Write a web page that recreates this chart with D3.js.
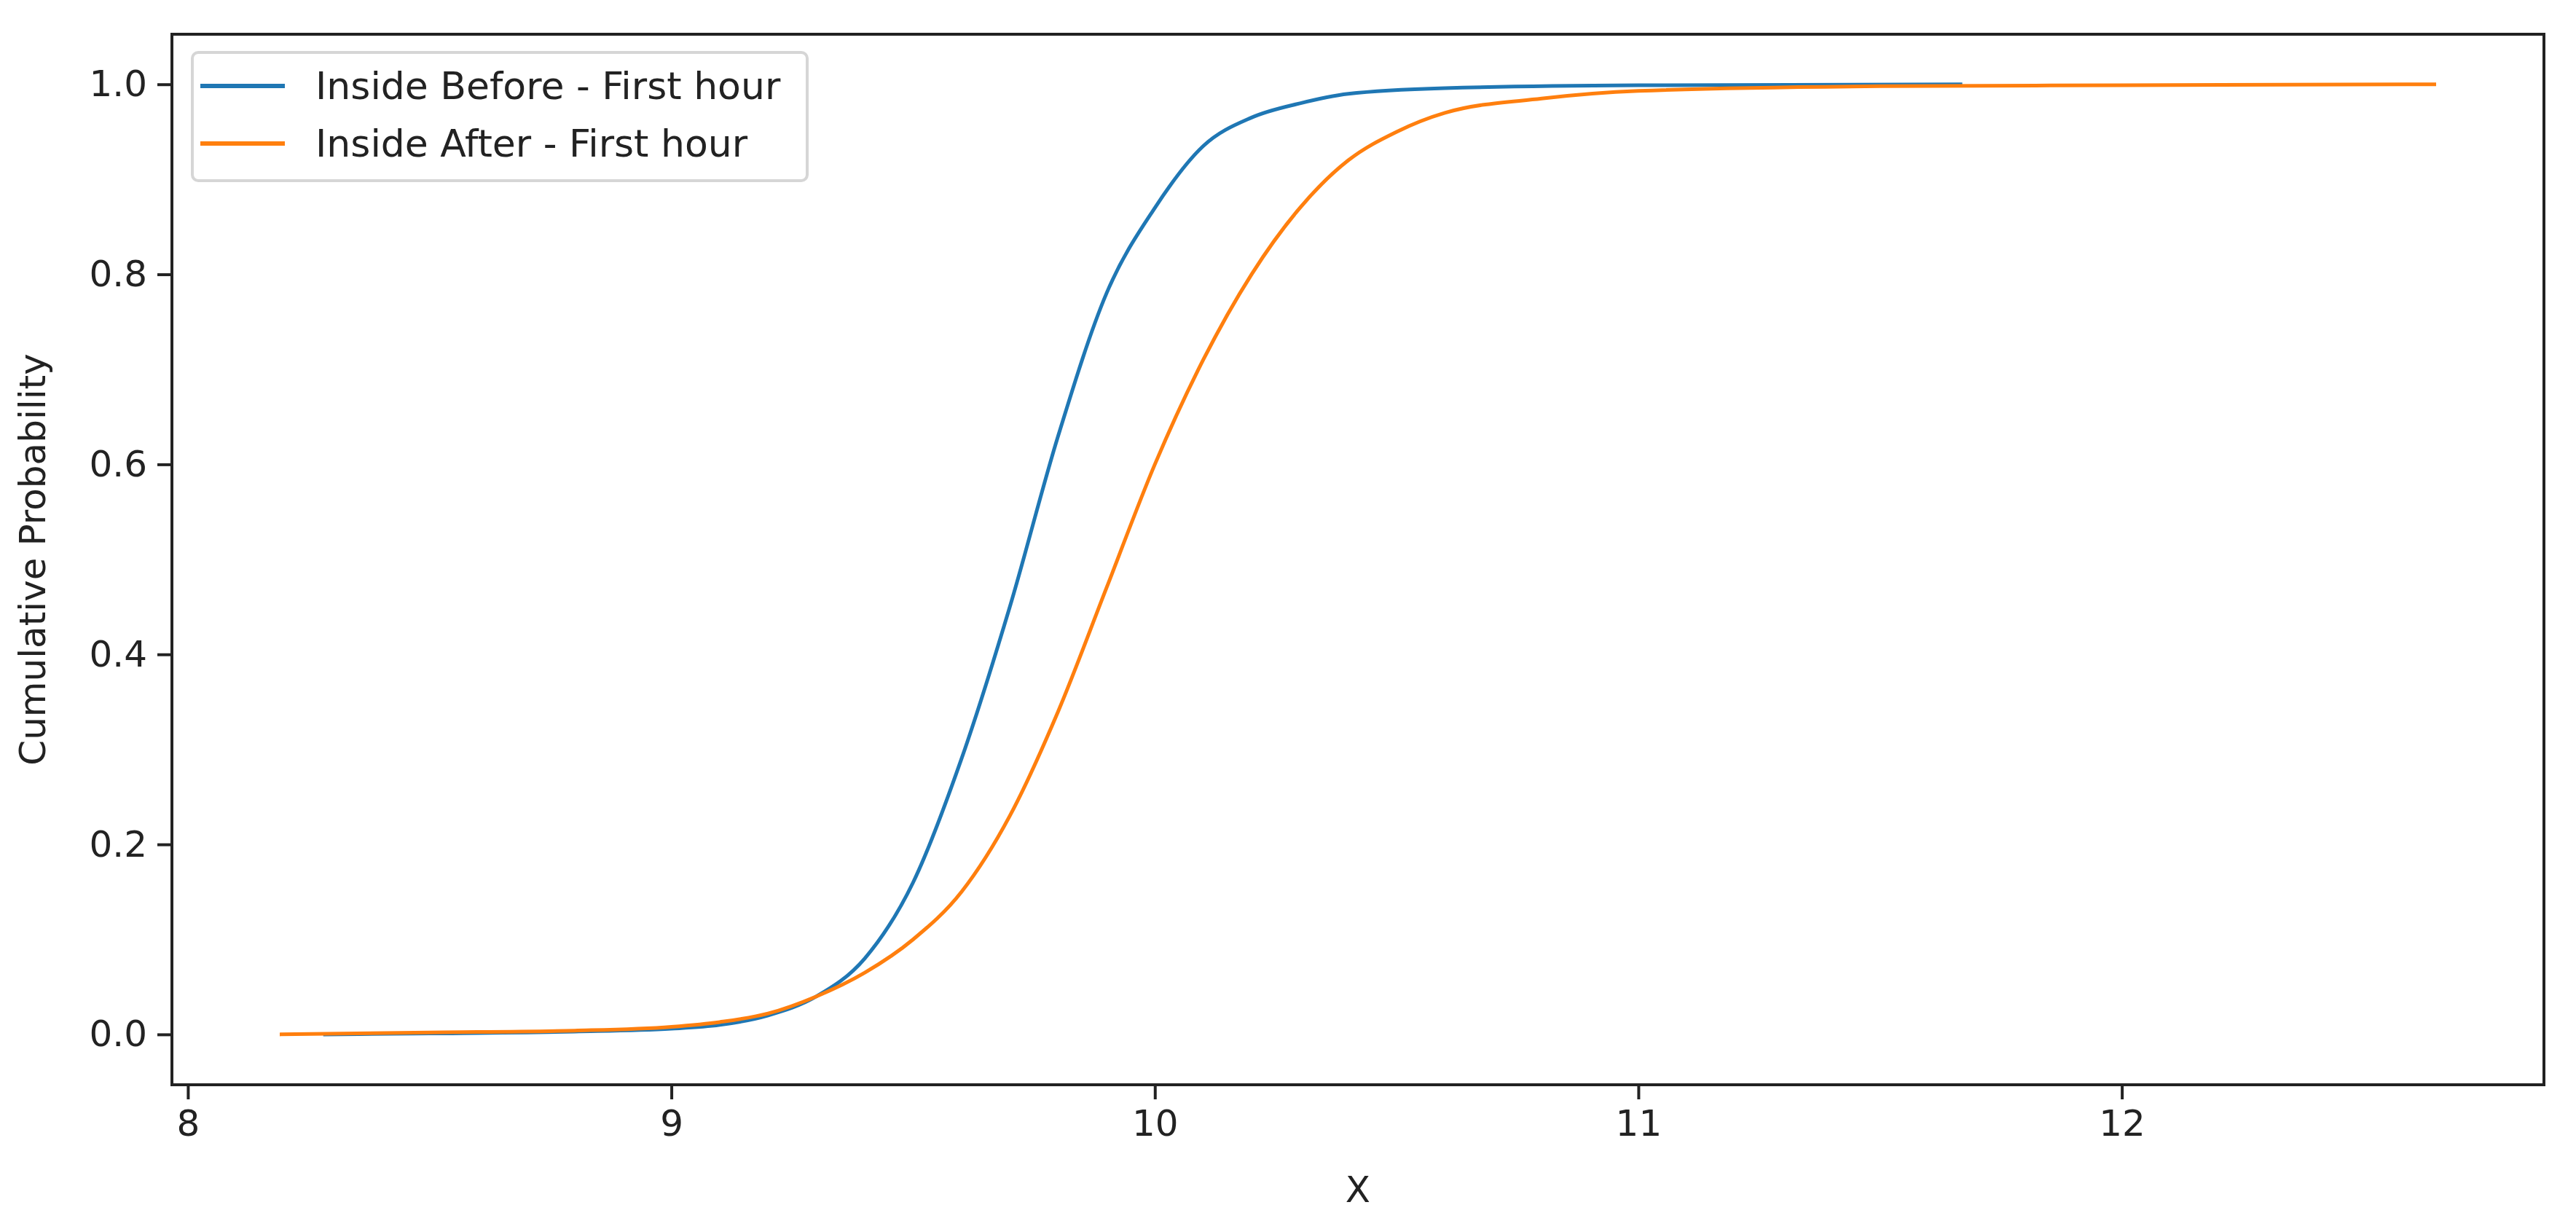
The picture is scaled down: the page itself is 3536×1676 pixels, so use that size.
<!DOCTYPE html>
<html><head><meta charset="utf-8">
<script src="https://cdn.jsdelivr.net/npm/d3@7"></script>
<style>body{margin:0;background:#fff}</style></head>
<body><svg id="c" width="3536" height="1676"></svg>
<script>
const seriesNames = ["Inside Before - First hour", "Inside After - First hour"];
const colors = ["#1f77b4", "#ff7f0e"];
const beforeX = [8.28,8.5,8.8,9.0,9.1,9.2,9.3,9.4,9.5,9.6,9.7,9.8,9.9,10.0,10.1,10.2,10.3,10.4,10.6,11.0,11.67];
const beforeY = [0,0.001,0.003,0.006,0.01,0.02,0.04,0.08,0.16,0.29,0.45,0.63,0.78,0.87,0.935,0.965,0.98,0.99,0.996,0.999,1.0];
const afterX = [8.19,8.5,8.8,9.0,9.1,9.2,9.3,9.4,9.5,9.6,9.7,9.8,9.9,10.0,10.1,10.2,10.3,10.4,10.5,10.6,10.8,11.0,11.5,12.0,12.65];
const afterY = [0,0.002,0.004,0.008,0.013,0.022,0.04,0.065,0.1,0.15,0.23,0.34,0.47,0.6,0.71,0.8,0.87,0.92,0.95,0.97,0.985,0.993,0.998,0.999,1.0];
const xTicks = [8,9,10,11,12];
const yTicks = [0,0.2,0.4,0.6,0.8,1.0];

const L=236,R=3492,T=47,B=1489;
const x=d3.scaleLinear().domain([7.967,12.873]).range([L,R]);
const y=d3.scaleLinear().domain([-0.053,1.0527]).range([B,T]);
const svg=d3.select("#c");
const font="DejaVu Sans";
const series=[[beforeX,beforeY],[afterX,afterY]];
const line=d3.line().x(d=>x(d[0])).y(d=>y(d[1])).curve(d3.curveMonotoneX);
series.forEach((s,i)=>{
  svg.append("path").datum(s[0].map((v,j)=>[v,s[1][j]])).attr("d",line)
    .attr("fill","none").attr("stroke",colors[i]).attr("stroke-width",5);
});
const xa=svg.append("g").attr("transform",`translate(0,${B})`).call(d3.axisBottom(x).tickValues(xTicks).tickFormat(d3.format("d")).tickSize(20).tickPadding(14));
const ya=svg.append("g").attr("transform",`translate(${L},0)`).call(d3.axisLeft(y).tickValues(yTicks).tickFormat(d3.format(".1f")).tickSize(20).tickPadding(14));
[xa,ya].forEach(a=>{a.select(".domain").remove();a.selectAll("line").attr("stroke","#222").attr("stroke-width",4);
  a.selectAll("text").attr("font-family",font).attr("font-size",50).attr("fill","#222");});
svg.append("rect").attr("x",L).attr("y",T).attr("width",R-L).attr("height",B-T).attr("fill","none").attr("stroke","#222").attr("stroke-width",4);
svg.append("text").attr("x",(L+R)/2).attr("y",1650).attr("text-anchor","middle").attr("font-family",font).attr("font-size",50).attr("fill","#222").text("X");
svg.append("text").attr("transform",`translate(62,${(T+B)/2}) rotate(-90)`).attr("text-anchor","middle").attr("font-family",font).attr("font-size",50).attr("fill","#222").text("Cumulative Probability");
const lg=svg.append("g");
lg.append("rect").attr("x",264).attr("y",72).attr("width",844).attr("height",176).attr("rx",8).attr("fill","#fff").attr("fill-opacity",0.8).attr("stroke","#d6d6d6").attr("stroke-width",4);
seriesNames.forEach((n,i)=>{
  const yy=118+i*79;
  lg.append("line").attr("x1",275).attr("x2",391).attr("y1",yy).attr("y2",yy).attr("stroke",colors[i]).attr("stroke-width",6);
  lg.append("text").attr("x",433).attr("y",yy+18).attr("font-family",font).attr("font-size",52).attr("fill","#222").text(n);
});
</script></body></html>
